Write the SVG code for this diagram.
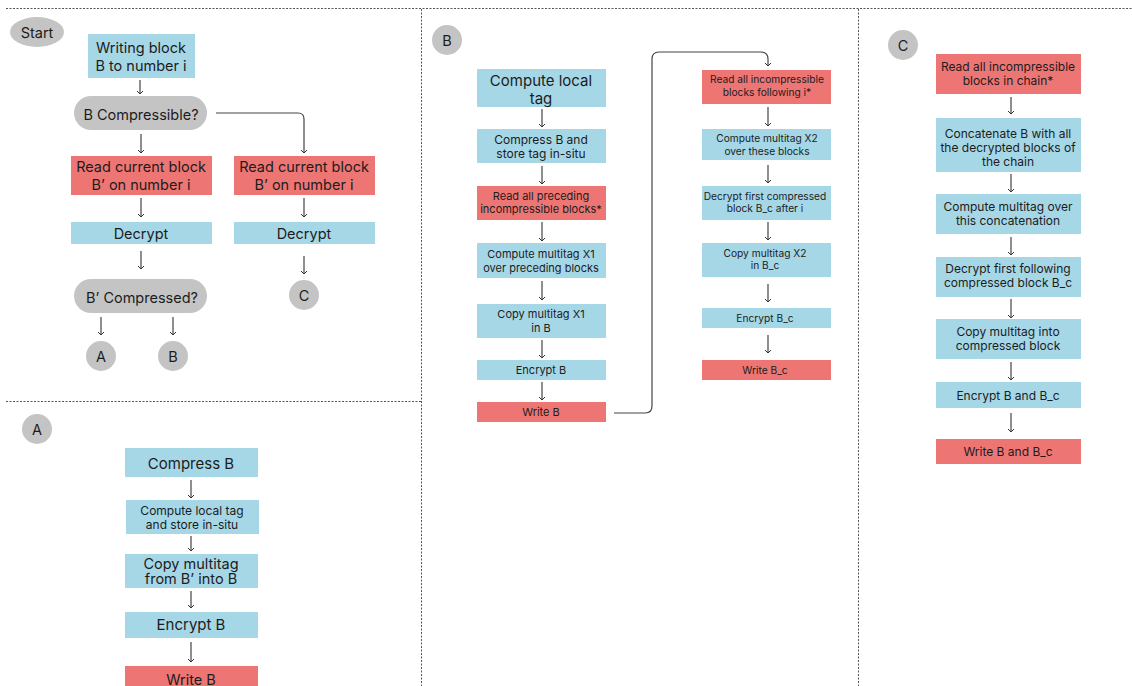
<svg xmlns="http://www.w3.org/2000/svg" width="1132" height="686" viewBox="0 0 1132 686">
  <defs>
    <style>
      text { font-family: Inter, "Noto Sans", "Liberation Sans", sans-serif; fill: #1c1c1c; text-anchor: middle; dominant-baseline: central; }
      .blue { fill: #a6d7e7; }
      .red { fill: #ed7674; }
      .grey { fill: #c4c4c4; }
      .sep { stroke: #555; stroke-width: 1; stroke-dasharray: 2 1.5; fill: none; }
      .link { stroke: #444; stroke-width: 1.2; fill: none; marker-end: url(#tip); }
      .f16 { font-size: 15px; }
      .f15 { font-size: 14.5px; }
      .f13 { font-size: 12px; }
      .f12 { font-size: 11px; }
      .f11 { font-size: 10.2px; }
    </style>
    <!-- open chevron, drawn along +x so orient="auto" follows the line -->
    <marker id="tip" markerWidth="8" markerHeight="8" refX="6.5" refY="4" markerUnits="userSpaceOnUse" orient="auto" viewBox="0 0 8 8">
      <path d="M3.5,1 L6.5,4 L3.5,7" fill="none" stroke="#333" stroke-width="1"/>
    </marker>
  </defs>

  <!-- panel separators -->
  <g id="separators">
    <line class="sep" x1="6" y1="8.5" x2="1132" y2="8.5"/>
    <line class="sep" x1="421.5" y1="9" x2="421.5" y2="686"/>
    <line class="sep" x1="858.5" y1="9" x2="858.5" y2="686"/>
    <line class="sep" x1="6" y1="401.5" x2="421" y2="401.5"/>
  </g>

  <!-- connectors -->
  <g id="connectors">
    <!-- start panel -->
    <line class="link" x1="140" y1="80" x2="140" y2="94"/>
    <path class="link" d="M216,113 H298 Q304,113 304,119 V153"/>
    <line class="link" x1="141" y1="134" x2="141" y2="153"/>
    <line class="link" x1="141" y1="198" x2="141" y2="217"/>
    <line class="link" x1="304" y1="198" x2="304" y2="217"/>
    <line class="link" x1="141" y1="251" x2="141" y2="269"/>
    <line class="link" x1="304" y1="256" x2="304" y2="274"/>
    <line class="link" x1="101" y1="317" x2="101" y2="335"/>
    <line class="link" x1="173" y1="317" x2="173" y2="335"/>
    <!-- panel A -->
    <line class="link" x1="191" y1="480" x2="191" y2="498"/>
    <line class="link" x1="191" y1="536" x2="191" y2="551"/>
    <line class="link" x1="191" y1="591" x2="191" y2="608"/>
    <line class="link" x1="191" y1="642" x2="191" y2="662"/>
    <!-- panel B -->
    <line class="link" x1="542" y1="109" x2="542" y2="127"/>
    <line class="link" x1="542" y1="166" x2="542" y2="184"/>
    <line class="link" x1="542" y1="222" x2="542" y2="241"/>
    <line class="link" x1="542" y1="281" x2="542" y2="300"/>
    <line class="link" x1="542" y1="340" x2="542" y2="358"/>
    <line class="link" x1="542" y1="382" x2="542" y2="400"/>
    <path class="link" d="M614,413 H645 Q652,413 652,406 V59 Q652,52 659,52 H761 Q768,52 768,59 V66"/>
    <line class="link" x1="768" y1="107" x2="768" y2="126"/>
    <line class="link" x1="768" y1="165" x2="768" y2="183"/>
    <line class="link" x1="768" y1="222" x2="768" y2="240"/>
    <line class="link" x1="768" y1="284" x2="768" y2="302"/>
    <line class="link" x1="768" y1="335" x2="768" y2="353"/>
    <!-- panel C -->
    <line class="link" x1="1011" y1="97" x2="1011" y2="114"/>
    <line class="link" x1="1011" y1="174" x2="1011" y2="192"/>
    <line class="link" x1="1011" y1="237" x2="1011" y2="255"/>
    <line class="link" x1="1011" y1="299" x2="1011" y2="318"/>
    <line class="link" x1="1011" y1="362" x2="1011" y2="380"/>
    <line class="link" x1="1011" y1="413" x2="1011" y2="432"/>
  </g>

  <!-- start panel -->
  <g id="start">
    <ellipse class="grey" cx="37" cy="32" rx="27" ry="15"/>
    <text class="f15" x="37" y="32">Start</text>
  </g>
  <g id="writing-block">
    <rect class="blue" x="88" y="34" width="107" height="44"/>
    <text class="f15" x="141" y="47">Writing block</text>
    <text class="f15" x="141" y="65">B to number i</text>
  </g>
  <g id="b-compressible">
    <rect class="grey" x="74" y="96" width="133" height="34" rx="17"/>
    <text class="f15" x="141" y="114">B Compressible?</text>
  </g>
  <g id="read-current-left">
    <rect class="red" x="71" y="156" width="141" height="39"/>
    <text class="f15" x="141" y="166">Read current block</text>
    <text class="f15" x="141" y="184">B’ on number i</text>
  </g>
  <g id="read-current-right">
    <rect class="red" x="234" y="156" width="141" height="39"/>
    <text class="f15" x="304" y="166">Read current block</text>
    <text class="f15" x="304" y="184">B’ on number i</text>
  </g>
  <g id="decrypt-left">
    <rect class="blue" x="71" y="222" width="141" height="22"/>
    <text class="f15" x="141" y="233">Decrypt</text>
  </g>
  <g id="decrypt-right">
    <rect class="blue" x="234" y="222" width="141" height="22"/>
    <text class="f15" x="304" y="233">Decrypt</text>
  </g>
  <g id="b-prime-compressed">
    <rect class="grey" x="74" y="279" width="133" height="34" rx="17"/>
    <text class="f15" x="142" y="297">B’ Compressed?</text>
  </g>
  <g id="to-c">
    <circle class="grey" cx="304" cy="295" r="15"/>
    <text class="f15" x="304" y="295">C</text>
  </g>
  <g id="to-a">
    <circle class="grey" cx="101" cy="356" r="15"/>
    <text class="f15" x="101" y="356">A</text>
  </g>
  <g id="to-b">
    <circle class="grey" cx="173" cy="356" r="15"/>
    <text class="f15" x="173" y="356">B</text>
  </g>

  <!-- panel A -->
  <g id="label-a">
    <circle class="grey" cx="37" cy="429" r="15"/>
    <text class="f15" x="37" y="429">A</text>
  </g>
  <g id="a-compress">
    <rect class="blue" x="125" y="448" width="133" height="29"/>
    <text class="f16" x="191" y="463">Compress B</text>
  </g>
  <g id="a-local-tag">
    <rect class="blue" x="126" y="500" width="133" height="34"/>
    <text class="f13" x="192" y="510">Compute local tag</text>
    <text class="f13" x="192" y="524">and store in-situ</text>
  </g>
  <g id="a-copy">
    <rect class="blue" x="125" y="554" width="133" height="34"/>
    <text class="f15" x="191" y="563">Copy multitag</text>
    <text class="f15" x="191" y="578">from B’ into B</text>
  </g>
  <g id="a-encrypt">
    <rect class="blue" x="125" y="612" width="133" height="26"/>
    <text class="f16" x="191" y="624">Encrypt B</text>
  </g>
  <g id="a-write">
    <rect class="red" x="125" y="666" width="133" height="24"/>
    <text class="f15" x="191" y="679">Write B</text>
  </g>

  <!-- panel B -->
  <g id="label-b">
    <circle class="grey" cx="447" cy="40" r="15"/>
    <text class="f15" x="447" y="40">B</text>
  </g>
  <g id="b-local-tag">
    <rect class="blue" x="477" y="69" width="129" height="38"/>
    <text class="f16" x="541" y="80">Compute local</text>
    <text class="f16" x="541" y="98">tag</text>
  </g>
  <g id="b-compress">
    <rect class="blue" x="477" y="129" width="129" height="34"/>
    <text class="f13" x="541" y="139">Compress B and</text>
    <text class="f13" x="541" y="153">store tag in-situ</text>
  </g>
  <g id="b-read-preceding">
    <rect class="red" x="477" y="186" width="129" height="34"/>
    <text class="f12" x="541" y="196">Read all preceding</text>
    <text class="f12" x="541" y="209">incompressible blocks*</text>
  </g>
  <g id="b-multitag-x1">
    <rect class="blue" x="477" y="243" width="129" height="35"/>
    <text class="f12" x="541" y="254">Compute multitag X1</text>
    <text class="f12" x="541" y="268">over preceding blocks</text>
  </g>
  <g id="b-copy-x1">
    <rect class="blue" x="477" y="304" width="129" height="34"/>
    <text class="f12" x="541" y="314">Copy multitag X1</text>
    <text class="f12" x="541" y="328">in B</text>
  </g>
  <g id="b-encrypt">
    <rect class="blue" x="477" y="360" width="129" height="20"/>
    <text class="f12" x="541" y="370">Encrypt B</text>
  </g>
  <g id="b-write">
    <rect class="red" x="477" y="402" width="129" height="20"/>
    <text class="f12" x="541" y="412">Write B</text>
  </g>
  <g id="b-read-following">
    <rect class="red" x="702" y="70" width="129" height="34"/>
    <text class="f11" x="767" y="79">Read all incompressible</text>
    <text class="f11" x="767" y="92">blocks following i*</text>
  </g>
  <g id="b-multitag-x2">
    <rect class="blue" x="702" y="129" width="129" height="31"/>
    <text class="f11" x="767" y="138">Compute multitag X2</text>
    <text class="f11" x="767" y="151">over these blocks</text>
  </g>
  <g id="b-decrypt-first">
    <rect class="blue" x="702" y="186" width="129" height="34"/>
    <text class="f11" x="765" y="196">Decrypt first compressed</text>
    <text class="f11" x="765" y="208">block B_c after i</text>
  </g>
  <g id="b-copy-x2">
    <rect class="blue" x="702" y="243" width="129" height="34"/>
    <text class="f11" x="765" y="253">Copy multitag X2</text>
    <text class="f11" x="765" y="265">in B_c</text>
  </g>
  <g id="b-encrypt-bc">
    <rect class="blue" x="702" y="308" width="129" height="20"/>
    <text class="f11" x="765" y="318">Encrypt B_c</text>
  </g>
  <g id="b-write-bc">
    <rect class="red" x="702" y="360" width="129" height="20"/>
    <text class="f11" x="765" y="370">Write B_c</text>
  </g>

  <!-- panel C -->
  <g id="label-c">
    <circle class="grey" cx="903" cy="45" r="15"/>
    <text class="f15" x="903" y="45">C</text>
  </g>
  <g id="c-read-chain">
    <rect class="red" x="936" y="54" width="145" height="40"/>
    <text class="f13" x="1008" y="66">Read all incompressible</text>
    <text class="f13" x="1008" y="80">blocks in chain*</text>
  </g>
  <g id="c-concatenate">
    <rect class="blue" x="936" y="118" width="145" height="54"/>
    <text class="f13" x="1008" y="133">Concatenate B with all</text>
    <text class="f13" x="1008" y="147">the decrypted blocks of</text>
    <text class="f13" x="1008" y="161">the chain</text>
  </g>
  <g id="c-multitag">
    <rect class="blue" x="936" y="194" width="145" height="40"/>
    <text class="f13" x="1008" y="206">Compute multitag over</text>
    <text class="f13" x="1008" y="220">this concatenation</text>
  </g>
  <g id="c-decrypt">
    <rect class="blue" x="936" y="257" width="145" height="40"/>
    <text class="f13" x="1008" y="268">Decrypt first following</text>
    <text class="f13" x="1008" y="282">compressed block B_c</text>
  </g>
  <g id="c-copy">
    <rect class="blue" x="936" y="319" width="145" height="40"/>
    <text class="f13" x="1008" y="331">Copy multitag into</text>
    <text class="f13" x="1008" y="345">compressed block</text>
  </g>
  <g id="c-encrypt">
    <rect class="blue" x="936" y="382" width="145" height="26"/>
    <text class="f13" x="1008" y="395">Encrypt B and B_c</text>
  </g>
  <g id="c-write">
    <rect class="red" x="936" y="439" width="145" height="25"/>
    <text class="f13" x="1008" y="451">Write B and B_c</text>
  </g>
</svg>
